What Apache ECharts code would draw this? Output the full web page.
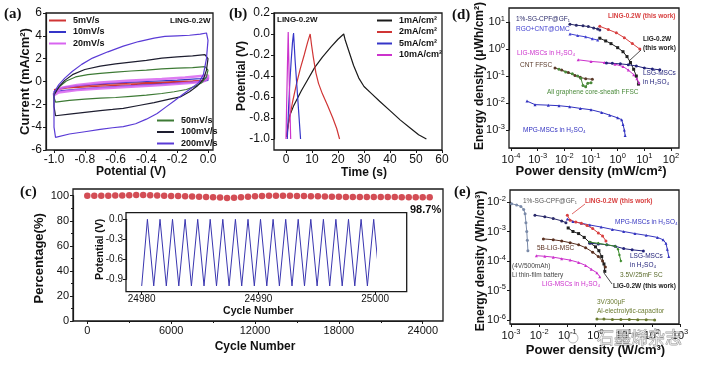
<!DOCTYPE html>
<html><head><meta charset="utf-8">
<script src="https://cdn.jsdelivr.net/npm/echarts/dist/echarts.min.js"></script>
<style>html,body{margin:0;padding:0;background:#fff}#c{width:703px;height:371px}</style>
</head><body><div id="c"></div>
<script>
// ---------- (a) CV curves [potential V, current mA/cm2] ----------
const cv5 = [[-1.0,-0.7],[-0.9,-0.45],[-0.7,-0.28],[-0.5,-0.15],[-0.3,-0.05],[-0.1,0.05],[0.0,0.12],[0.0,0.0],[-0.1,-0.05],[-0.3,-0.15],[-0.5,-0.28],[-0.7,-0.4],[-0.9,-0.55],[-1.0,-0.75],[-1.0,-0.7]];
const cv10 = [[-1.0,-0.85],[-0.93,-0.5],[-0.8,-0.3],[-0.6,-0.12],[-0.4,0.0],[-0.2,0.12],[-0.05,0.25],[0.0,0.32],[0.0,0.1],[-0.05,-0.02],[-0.2,-0.15],[-0.4,-0.3],[-0.6,-0.45],[-0.8,-0.62],[-0.95,-0.8],[-1.0,-0.95],[-1.0,-0.85]];
const cv20 = [[-1.0,-1.0],[-0.95,-0.55],[-0.85,-0.3],[-0.7,-0.1],[-0.5,0.08],[-0.3,0.22],[-0.15,0.35],[-0.03,0.5],[0.0,0.55],[0.0,0.25],[-0.03,0.0],[-0.1,-0.1],[-0.3,-0.3],[-0.5,-0.45],[-0.7,-0.6],[-0.85,-0.75],[-0.97,-0.95],[-1.0,-1.2],[-1.0,-1.0]];
const cv50 = [[-1.0,-1.0],[-0.96,-0.4],[-0.92,0.05],[-0.86,0.4],[-0.78,0.6],[-0.7,0.72],[-0.6,0.82],[-0.5,0.92],[-0.4,1.0],[-0.3,1.1],[-0.2,1.18],[-0.1,1.22],[-0.02,1.3],[0.0,1.0],[-0.01,0.4],[-0.04,-0.1],[-0.08,-0.4],[-0.14,-0.7],[-0.22,-0.9],[-0.3,-1.05],[-0.4,-1.2],[-0.5,-1.3],[-0.6,-1.4],[-0.7,-1.45],[-0.8,-1.55],[-0.9,-1.65],[-0.99,-1.8],[-1.0,-1.4],[-1.0,-1.0]];
const cv100 = [[-1.0,-1.2],[-0.97,-0.5],[-0.93,0.1],[-0.88,0.6],[-0.8,1.05],[-0.7,1.35],[-0.6,1.55],[-0.5,1.7],[-0.4,1.85],[-0.3,2.05],[-0.2,2.15],[-0.1,2.25],[-0.02,2.35],[0.0,2.0],[-0.01,1.0],[-0.03,0.2],[-0.07,-0.4],[-0.12,-0.9],[-0.18,-1.35],[-0.25,-1.55],[-0.35,-1.85],[-0.45,-2.1],[-0.55,-2.35],[-0.62,-2.45],[-0.7,-2.55],[-0.8,-2.7],[-0.9,-2.85],[-0.99,-3.0],[-1.0,-2.2],[-1.0,-1.2]];
const cv200 = [[-1.0,-1.0],[-0.97,-0.3],[-0.93,0.3],[-0.88,0.9],[-0.82,1.5],[-0.75,2.05],[-0.65,2.6],[-0.55,3.1],[-0.45,3.5],[-0.35,3.8],[-0.28,3.95],[-0.2,4.0],[-0.12,4.05],[-0.05,4.15],[-0.01,4.25],[0.0,3.6],[-0.01,2.0],[-0.03,0.6],[-0.06,-0.1],[-0.1,-0.5],[-0.16,-1.1],[-0.22,-1.7],[-0.27,-2.2],[-0.33,-2.8],[-0.4,-3.3],[-0.47,-3.7],[-0.55,-3.95],[-0.62,-4.05],[-0.7,-4.2],[-0.8,-4.4],[-0.9,-4.6],[-0.99,-4.9],[-1.0,-4.0],[-1.0,-1.0]];

// ---------- (b) GCD curves [time s, potential V] ----------
const gcd1 = [[0.2,-0.98],[0.6,-0.9],[1.4,-0.78],[3,-0.68],[5.9,-0.54],[8,-0.45],[11,-0.32],[14,-0.22],[17.4,-0.12],[20,-0.05],[22.2,0.0],[22.8,-0.06],[24,-0.15],[26,-0.3],[28,-0.42],[30,-0.5],[33,-0.57],[36,-0.64],[40,-0.73],[44,-0.82],[48,-0.9],[51,-0.96],[54,-1.0]];
const gcd2 = [[0.3,-0.98],[1,-0.85],[2.5,-0.65],[4,-0.48],[5.5,-0.33],[7,-0.2],[8.3,-0.08],[9.3,0.0],[9.8,-0.1],[10.5,-0.22],[11.5,-0.37],[12.5,-0.47],[14,-0.57],[16,-0.68],[18,-0.8],[19.5,-0.9],[20.6,-1.0]];
const gcd5 = [[0.5,-1.0],[1.0,-0.7],[1.5,-0.45],[2.0,-0.25],[2.5,-0.08],[2.9,0.01],[3.5,-0.25],[4.2,-0.5],[4.9,-0.75],[5.6,-1.0]];
const gcd10 = [[0.0,-1.0],[0.3,-0.6],[0.6,-0.25],[0.85,0.02],[1.2,-0.4],[1.5,-0.7],[1.8,-1.0]];

// ---------- (c) cycling ----------
const cycles = [0,500,1000,1500,2000,2500,3000,3500,4000,4500,5000,5500,6000,6500,7000,7500,8000,8500,9000,9500,10000,10500,11000,11500,12000,12500,13000,13500,14000,14500,15000,15500,16000,16500,17000,17500,18000,18500,19000,19500,20000,20500,21000,21500,22000,22500,23000,23500,24000,24500];
const retention = [100.0,100.0,100.0,100.0,100.1,100.2,100.3,100.5,100.6,100.4,100.1,100.0,99.8,99.7,99.5,99.4,99.2,99.0,98.8,98.5,98.2,98.3,98.7,99.2,99.6,99.8,99.9,100.0,100.0,99.9,99.8,99.7,99.6,99.5,99.4,99.2,99.1,99.0,99.0,98.9,99.0,99.0,98.9,98.9,98.9,98.8,98.8,98.8,98.7,98.7];
const insetCycle = [24980.00,24980.49,24981.03,24981.57,24982.11,24982.64,24983.18,24983.72,24984.26,24984.80,24985.34,24985.87,24986.41,24986.95,24987.49,24988.03,24988.57,24989.11,24989.65,24990.18,24990.72,24991.26,24991.80,24992.34,24992.88,24993.41,24993.95,24994.49,24995.03,24995.57,24996.11,24996.64,24997.18,24997.72,24998.26,24998.80,24999.34,24999.88,25000.42,25000.95,25001.49];
const insetPotential = [-1.0,0.0,-1.0,0.0,-1.0,0.0,-1.0,0.0,-1.0,0.0,-1.0,0.0,-1.0,0.0,-1.0,0.0,-1.0,0.0,-1.0,0.0,-1.0,0.0,-1.0,0.0,-1.0,0.0,-1.0,0.0,-1.0,0.0,-1.0,0.0,-1.0,0.0,-1.0,0.0,-1.0,0.0,-1.0,0.0,-1.0];

// ---------- (d) Ragone, [log10 P (mW/cm2), log10 E (uWh/cm2)] ----------
const dSgcpf = [[-1.79,0.92],[-1.55,0.88],[-1.3,0.86],[-1.1,0.83],[-0.9,0.78],[-0.75,0.74],[-0.67,0.70]];
const dRgo = [[-1.79,0.56],[-1.5,0.5],[-1.2,0.45],[-0.95,0.38],[-0.75,0.33]];
const dLing = [[-0.67,0.84],[-0.35,0.72],[-0.05,0.6],[0.25,0.42],[0.55,0.2],[0.83,0.0]];
const dLig = [[-0.67,0.40],[-0.45,0.3],[-0.25,0.2],[0.0,0.05],[0.2,-0.1],[0.35,-0.28],[0.48,-0.5],[0.6,-0.75],[0.7,-1.0],[0.78,-1.3]];
const dLigMsc = [[-1.48,-0.4],[-1.0,-0.46],[-0.5,-0.5],[-0.1,-0.56],[0.2,-0.65],[0.4,-0.78],[0.6,-0.95],[0.72,-1.1],[0.8,-1.25]];
const dLsg = [[-0.42,-0.52],[-0.2,-0.53],[0.1,-0.55],[0.4,-0.58],[0.7,-0.63],[1.0,-0.7],[1.3,-0.74],[1.58,-0.77]];
const dCnt = [[-2.35,-0.7],[-2.1,-0.78],[-1.85,-0.87],[-1.6,-0.98],[-1.4,-1.05],[-1.2,-1.1],[-0.95,-1.12]];
const dAllG = [[-2.2,-0.75],[-1.95,-0.85],[-1.7,-0.92],[-1.5,-1.0],[-1.38,-1.08],[-1.3,-1.35],[-1.2,-1.4],[-1.12,-1.27],[-1.0,-1.25]];
const dMpg = [[-3.4,-1.93],[-3.1,-2.06],[-2.6,-2.08],[-2.2,-2.1],[-1.8,-2.14],[-1.4,-2.2],[-1.0,-2.25],[-0.6,-2.35],[-0.3,-2.45],[0.0,-2.55],[0.15,-2.62],[0.2,-2.8],[0.25,-3.0],[0.28,-3.2]];

// ---------- (e) Ragone, [log10 P (W/cm3), log10 E (Wh/cm3)] ----------
const eLi = [[-2.98,-2.06],[-2.8,-2.1],[-2.65,-2.15],[-2.55,-2.25],[-2.5,-2.4],[-2.47,-2.7],[-2.44,-3.0],[-2.42,-3.3],[-2.4,-3.65]];
const eSgcpf = [[-2.15,-2.45],[-1.8,-2.5],[-1.5,-2.56],[-1.2,-2.64],[-1.05,-2.7]];
const eMpg = [[-1.0,-2.58],[-0.8,-2.66],[-0.5,-2.72],[-0.2,-2.78],[0.2,-2.85],[0.6,-2.93],[1.0,-3.0],[1.4,-3.07],[1.8,-3.13],[2.2,-3.2],[2.4,-3.28],[2.5,-3.4],[2.55,-3.6],[2.6,-3.85]];
const eLing = [[-1.0,-2.45],[-0.9,-2.62],[-0.7,-2.68],[-0.5,-2.72],[-0.3,-2.8],[-0.1,-2.9],[0.1,-3.05],[0.25,-3.15],[0.37,-3.32]];
const eLig = [[-0.97,-2.88],[-0.8,-3.0],[-0.6,-3.07],[-0.4,-3.2],[-0.2,-3.38],[0.0,-3.52],[0.12,-3.65],[0.22,-3.85],[0.3,-4.1],[0.33,-4.35]];
const e5b = [[-1.85,-3.25],[-1.5,-3.28],[-1.2,-3.32],[-0.9,-3.38],[-0.6,-3.45],[-0.35,-3.55],[-0.1,-3.7],[0.1,-3.85],[0.25,-4.0],[0.35,-4.2]];
const eLsg = [[-0.2,-3.4],[0.1,-3.42],[0.4,-3.45],[0.7,-3.5],[1.0,-3.58],[1.3,-3.62],[1.7,-3.66]];
const eSc = [[-0.2,-3.36],[0.1,-3.4],[0.4,-3.45],[0.7,-3.5],[0.8,-3.6],[0.85,-3.8],[0.9,-4.0]];
const eLigMsc = [[-2.1,-3.82],[-1.8,-3.84],[-1.5,-3.87],[-1.2,-3.92],[-0.9,-3.97],[-0.6,-4.05],[-0.35,-4.15],[-0.15,-4.28],[0.05,-4.4],[0.15,-4.53]];
const eAlCap = [[0.05,-5.97],[0.3,-5.97],[0.6,-5.98],[0.9,-5.98],[1.2,-5.98],[1.5,-5.99],[1.8,-5.99],[2.1,-6.0]];

// ---------- text ----------
const cvNames = ['5mV/s','10mV/s','20mV/s','50mV/s','100mV/s','200mV/s'];
const gcdNames = ['1mA/cm²','2mA/cm²','5mA/cm²','10mA/cm²'];
const annotations = [
  ['LING-0.2W',170,21,'#111',8,'bold'],
  ['LING-0.2W',277,20,'#111',8,'bold'],
  ['98.7%',410,210,'#111',11,'bold'],
  ['1%-SG-CPF@GF₁',516,19,'#2a2a6a',6.5,'normal'],
  ['RGO+CNT@OMC',516,29,'#4040d0',6.5,'normal'],
  ['LING-0.2W (this work)',608,16.5,'#d84040',6.5,'bold'],
  ['LIG-0.2W',643,39,'#202020',6.5,'bold'],
  ['(this work)',643,48,'#202020',6.5,'bold'],
  ['LIG-MSCs in H₂SO₄',517,53,'#cc30cc',6.5,'normal'],
  ['CNT FFSC',520,65,'#5a3a2a',6.5,'normal'],
  ['LSG-MSCs',643,73,'#22227a',6.5,'normal'],
  ['in H₂SO₄',643,82,'#22227a',6.5,'normal'],
  ['All graphene core-sheath FFSC',547,92.5,'#4a8a3a',6.5,'normal'],
  ['MPG-MSCs in H₂SO₄',523,130,'#3030c0',6.5,'normal'],
  ['1%-SG-CPF@GF₁',523,201.5,'#555',6.5,'normal'],
  ['LING-0.2W (this work)',585,201.5,'#d84040',6.5,'bold'],
  ['MPG-MSCs in H₂SO₄',615,222.5,'#3535c0',6.5,'normal'],
  ['5B-LIG-MSC',537,248.5,'#5a3020',6.5,'normal'],
  ['LSG-MSCs',630,256,'#22227a',6.5,'normal'],
  ['in H₂SO₄',630,265,'#22227a',6.5,'normal'],
  ['(4V/500mAh)',512,266,'#444',6.5,'normal'],
  ['Li thin-film battery',512,275,'#444',6.5,'normal'],
  ['3.5V/25mF SC',620,275,'#5a6a2a',6.5,'normal'],
  ['LIG-MSCs in H₂SO₄',542,284,'#cc30cc',6.5,'normal'],
  ['LIG-0.2W (this work)',613,286,'#202020',6.5,'bold'],
  ['3V/300μF',597,302.5,'#6a7a30',6.5,'normal'],
  ['Al-electrolytic-capacitor',597,311.5,'#6a7a30',6.5,'normal']
];
const panelLetters = [['(a)',4,14],['(b)',229,14],['(c)',20,192],['(d)',452,15],['(e)',454,192]];

const FONT = '"Liberation Sans", Arial, sans-serif';
const INK = '#1a1a1a';
const chart = echarts.init(document.getElementById('c'), null, {renderer:'canvas'});

function axis(extra){
  const base = {
    type:'value', nameLocation:'middle', nameMoveOverlap:false,
    axisLine:{show:true,onZero:false,lineStyle:{color:INK,width:1.2}},
    axisTick:{show:true,length:3,lineStyle:{color:INK,width:1}},
    splitLine:{show:false},
    axisLabel:{color:'#111',fontSize:12,margin:4,fontFamily:FONT},
    nameTextStyle:{color:'#111',fontWeight:'bold',fontSize:12,fontFamily:FONT}
  };
  const o = Object.assign({}, base, extra);
  if (extra.axisLabel) o.axisLabel = Object.assign({}, base.axisLabel, extra.axisLabel);
  if (extra.nameTextStyle) o.nameTextStyle = Object.assign({}, base.nameTextStyle, extra.nameTextStyle);
  return o;
}
const plain = v => String(Math.round(v));
const pow10 = v => '{b|10}{s|' + Math.round(v) + '}';
const powRich = {b:{fontSize:11,color:'#111',fontFamily:FONT},s:{fontSize:7.5,color:'#111',fontFamily:FONT,padding:[0,0,7,0]}};

function ln(name, data, color, gi, extra){
  return Object.assign({type:'line', name, data, xAxisIndex:gi, yAxisIndex:gi,
    showSymbol:false, symbol:'none', clip:false, silent:true, animation:false,
    lineStyle:{color, width:1.2}, itemStyle:{color}}, extra||{});
}
function mk(name, data, color, gi, sym){
  return ln(name, data, color, gi, {showSymbol:true, symbol:sym||'circle', symbolSize:3, lineStyle:{color,width:1}});
}

const grids = [
  {left:54, top:13, width:154, height:137},
  {left:286, top:13, width:156, height:126},
  {left:87.3, top:195.7, width:335.4, height:125.3},
  {left:141.7, top:219.3, width:233.4, height:60},
  {left:511, top:16.7, width:160, height:113.3},
  {left:511, top:202, width:169, height:118}
];

const xAxes = [
  axis({gridIndex:0, min:-1, max:0, interval:0.2, name:'Potential (V)', nameGap:16, axisLabel:{formatter:v=>v.toFixed(1)}}),
  axis({gridIndex:1, min:0, max:60, interval:10, offset:11, name:'Time (s)', nameGap:17, axisLabel:{formatter:plain}}),
  axis({gridIndex:2, min:0, max:24000, interval:6000, name:'Cycle Number', nameGap:20, minorTick:{show:true,splitNumber:2,length:2}, axisLabel:{fontSize:11, formatter:plain}}),
  axis({gridIndex:3, min:24980, max:25000, interval:10, offset:12.4, name:'Cycle Number', nameGap:14, axisLabel:{fontSize:10,margin:3,formatter:plain}, nameTextStyle:{fontSize:10.5}}),
  axis({gridIndex:4, min:-4, max:2, interval:1, offset:18, name:'Power density (mW/cm²)', nameGap:17, axisLabel:{formatter:pow10, rich:powRich}, nameTextStyle:{fontSize:13}}),
  axis({gridIndex:5, min:-3, max:3, interval:1, offset:4, name:'Power density (W/cm³)', nameGap:20, axisLabel:{formatter:pow10, rich:powRich}, nameTextStyle:{fontSize:13}})
];
const yAxes = [
  axis({gridIndex:0, min:-6, max:6, interval:2, offset:8, name:'Current (mA/cm²)', nameGap:14, nameTextStyle:{fontSize:13}, axisLabel:{formatter:plain}}),
  axis({gridIndex:1, min:-1, max:0.2, interval:0.2, offset:12, name:'Potential (V)', nameGap:26, axisLabel:{formatter:v=>v.toFixed(1)}}),
  axis({gridIndex:2, min:0, max:100, interval:20, offset:14.3, name:'Percentage(%)', nameGap:27, minorTick:{show:true,splitNumber:2,length:2}, nameTextStyle:{fontSize:13}, axisLabel:{fontSize:11, formatter:plain}}),
  axis({gridIndex:3, min:-0.9, max:0, interval:0.3, offset:15.7, name:'Potential (V)', nameGap:20, axisLabel:{fontSize:10,margin:3,formatter:v=>v.toFixed(1)}, nameTextStyle:{fontSize:10.5}}),
  axis({gridIndex:4, min:-3, max:1, interval:1, offset:2, name:'Energy density (μWh/cm²)', nameGap:23, axisLabel:{formatter:pow10, rich:powRich}}),
  axis({gridIndex:5, min:-6, max:-2, interval:1, offset:1, name:'Energy density (Wh/cm³)', nameGap:23, axisLabel:{formatter:pow10, rich:powRich}})
];

const cvColors = ['#d03535','#3535c8','#d864f0','#3d7a35','#1e1e30','#5a3bd6'];
const cvData = [cv5, cv10, cv20, cv50, cv100, cv200];
const gcdColors = ['#1a1a1a','#d03535','#3535c8','#cc33cc'];
const gcdData = [gcd1, gcd2, gcd5, gcd10];

const series = [];
cvData.forEach((d,i)=>series.push(ln(cvNames[i], d, cvColors[i], 0, i===2?{lineStyle:{color:cvColors[i],width:2.6,opacity:0.85}}:{})));
gcdData.forEach((d,i)=>series.push(ln(gcdNames[i], d, gcdColors[i], 1)));
series.push({type:'scatter', name:'retention', xAxisIndex:2, yAxisIndex:2, clip:false, silent:true, animation:false,
  data: cycles.map((c,i)=>[c, retention[i]]), symbolSize:6.5, itemStyle:{color:'#c8202a'}});
series.push(ln('inset', insetCycle.map((c,i)=>[c, insetPotential[i]]), '#3a36b0', 3, {lineStyle:{color:'#3a36b0',width:1}}));

series.push(mk('d 1%-SG-CPF@GF1', dSgcpf, '#2a2a6a', 4, 'circle'));
series.push(mk('d RGO+CNT@OMC', dRgo, '#4040d0', 4, 'triangle'));
series.push(mk('d LING-0.2W', dLing, '#d84040', 4, 'circle'));
series.push(mk('d LIG-0.2W', dLig, '#202020', 4, 'rect'));
series.push(mk('d LIG-MSCs', dLigMsc, '#cc30cc', 4, 'triangle'));
series.push(mk('d LSG-MSCs', dLsg, '#22227a', 4, 'circle'));
series.push(mk('d CNT FFSC', dCnt, '#5a3a2a', 4, 'circle'));
series.push(mk('d All graphene', dAllG, '#4a8a3a', 4, 'circle'));
series.push(mk('d MPG-MSCs', dMpg, '#3030c0', 4, 'triangle'));

series.push(mk('e Li battery', eLi, '#7a8aa8', 5, 'circle'));
series.push(mk('e 1%-SG-CPF@GF1', eSgcpf, '#2a2a6a', 5, 'circle'));
series.push(mk('e MPG-MSCs', eMpg, '#3535c0', 5, 'triangle'));
series.push(mk('e LING-0.2W', eLing, '#d84040', 5, 'circle'));
series.push(mk('e LIG-0.2W', eLig, '#202020', 5, 'rect'));
series.push(mk('e 5B-LIG-MSC', e5b, '#5a3020', 5, 'circle'));
series.push(mk('e LSG-MSCs', eLsg, '#22227a', 5, 'circle'));
series.push(mk('e 3.5V SC', eSc, '#3a8a2a', 5, 'diamond'));
series.push(mk('e LIG-MSCs', eLigMsc, '#cc30cc', 5, 'triangle'));
series.push(mk('e Al cap', eAlCap, '#6a7a30', 5, 'circle'));

const legendBase = {orient:'vertical', padding:0, icon:'rect', itemWidth:17, itemHeight:2, itemGap:1.5, selectedMode:false,
  textStyle:{fontSize:9, fontWeight:'bold', color:'#111', fontFamily:FONT, lineHeight:10, padding:[0,0,0,2]}};
const legends = [
  Object.assign({}, legendBase, {data:cvNames.slice(0,3), left:49, top:15.5}),
  Object.assign({}, legendBase, {data:cvNames.slice(3), left:157, top:115.5}),
  Object.assign({}, legendBase, {data:gcdNames, left:377, top:15.5, itemWidth:15})
];

const frames = [[46,13,167,137],[274,13,168,137],[73,189,370,132],[126,212.7,280.7,79],[509,8,170,140],[510,190,169,134]];
const graphic = [];
frames.forEach(f=>graphic.push({type:'rect', silent:true, z:1, shape:{x:f[0],y:f[1],width:f[2],height:f[3]}, style:{fill:'none', stroke:INK, lineWidth:1.3}}));
annotations.forEach(a=>graphic.push({type:'text', silent:true, z:5, x:a[1], y:a[2], style:{text:a[0], fill:a[3], font:a[5]+' '+a[4]+'px '+FONT, textVerticalAlign:'middle', verticalAlign:'middle'}}));
panelLetters.forEach(p=>graphic.push({type:'text', silent:true, z:5, x:p[1], y:p[2], style:{text:p[0], fill:'#111', font:'bold 15px "Liberation Serif", "Times New Roman", serif', verticalAlign:'middle'}}));
// pointer lines for annotations
[[641,50,629,61,'#202020'],[585,204,572,214,'#d84040'],[612,284,604,273,'#202020']].forEach(l=>graphic.push({type:'line', silent:true, z:5, shape:{x1:l[0],y1:l[1],x2:l[2],y2:l[3]}, style:{stroke:l[4], lineWidth:0.8}}));
// watermark
graphic.push({type:'circle', silent:true, z:6, shape:{cx:573,cy:338,r:5}, style:{fill:'none', stroke:'rgba(120,120,120,0.6)', lineWidth:0.9}});
graphic.push({type:'text', silent:true, z:6, x:597, y:338, style:{text:'石墨烯杂志', fill:'rgba(255,255,255,0.55)', stroke:'rgba(100,100,100,0.7)', lineWidth:0.8, font:'17px "Noto Sans CJK SC", sans-serif', verticalAlign:'middle'}});

chart.setOption({
  animation:false,
  backgroundColor:'#fff',
  textStyle:{fontFamily:FONT},
  grid: grids,
  xAxis: xAxes,
  yAxis: yAxes,
  legend: legends,
  series,
  graphic
});
</script></body></html>
